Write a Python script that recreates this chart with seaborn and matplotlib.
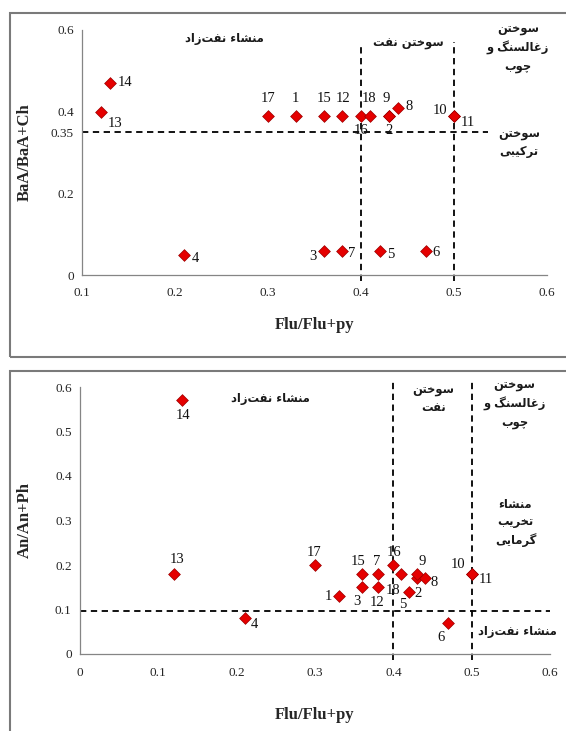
import matplotlib
matplotlib.use("Agg")
import matplotlib.pyplot as plt
import seaborn as sns
import pandas as pd
from matplotlib.patches import Rectangle

# ---------------- data ----------------
samples = [str(i) for i in range(1, 19)]

# top panel: Flu/Flu+py vs BaA/BaA+Ch
top_x = [0.33, 0.43, 0.36, 0.21, 0.42, 0.47, 0.38, 0.44, 0.43,
         0.50, 0.50, 0.38, 0.12, 0.13, 0.36, 0.40, 0.30, 0.41]
top_y = [0.39, 0.39, 0.06, 0.05, 0.06, 0.06, 0.06, 0.41, 0.39,
         0.39, 0.39, 0.39, 0.40, 0.47, 0.39, 0.39, 0.39, 0.39]

# bottom panel: Flu/Flu+py vs An/An+Ph
bot_x = [0.33, 0.43, 0.36, 0.21, 0.42, 0.47, 0.38, 0.44, 0.43,
         0.50, 0.50, 0.38, 0.12, 0.13, 0.36, 0.40, 0.30, 0.41]
bot_y = [0.13, 0.17, 0.15, 0.08, 0.14, 0.07, 0.18, 0.17, 0.18,
         0.18, 0.18, 0.15, 0.18, 0.57, 0.18, 0.20, 0.20, 0.18]

top_xticks = [0.1, 0.2, 0.3, 0.4, 0.5, 0.6]
top_yticks = [0, 0.2, 0.35, 0.4, 0.6]
top_ytick_labels = ["0", "0.2", "0.35", "0.4", "0.6"]
bot_xticks = [0, 0.1, 0.2, 0.3, 0.4, 0.5, 0.6]
bot_yticks = [0, 0.1, 0.2, 0.3, 0.4, 0.5, 0.6]

top_thresh_y = 0.35
bot_thresh_y = 0.096
thresh_x = [0.4, 0.5]

xlabel = "Flu/Flu+py"
top_ylabel = "BaA/BaA+Ch"
bot_ylabel = "An/An+Ph"

txt_petro = "منشاء نفت\u200cزاد"
txt_oil = "سوختن نفت"
txt_oil2 = "سوختن\nنفت"
txt_coal = "سوختن\nزغالسنگ و\nچوب"
txt_mix = "سوختن\nترکیبی"
txt_pyro = "منشاء\nتخریب\nگرمایی"

# ---------------- label offsets (pixels) ----------------
top_off = {
    "1": (0, 17, "center"), "2": (0, -15, "center"), "3": (-7, -6, "right"),
    "4": (7, -4, "left"), "5": (7, -4, "left"), "6": (6, -2, "left"),
    "7": (6, -3, "left"), "8": (7, 1, "left"), "9": (-3, 17, "center"),
    "10": (-7, 5, "right"), "11": (7, -7, "left"), "12": (1, 17, "center"),
    "13": (7, -12, "left"), "14": (8, 1, "left"), "15": (0, 17, "center"),
    "16": (0, -15, "center"), "17": (0, 17, "center"), "18": (-1, 17, "center"),
}
bot_off = {
    "1": (-6, 0, "right"), "2": (1, -15, "center"), "3": (-5, -14, "center"),
    "4": (6, -6, "left"), "5": (-6, -13, "center"), "6": (-7, -15, "center"),
    "7": (-1, 12, "center"), "8": (6, -4, "left"), "9": (5, 12, "center"),
    "10": (-6, 9, "right"), "11": (7, -6, "left"), "12": (-1, -15, "center"),
    "13": (3, 14, "center"), "14": (1, -15, "center"), "15": (-4, 12, "center"),
    "16": (1, 12, "center"), "17": (-1, 12, "center"), "18": (-8, -17, "center"),
}

# ---------------- simple Persian shaping ----------------
FORMS = {  # isolated, final, initial, medial
    'ا': ('\uFE8D', '\uFE8E', None, None),
    'ب': ('\uFE8F', '\uFE90', '\uFE91', '\uFE92'),
    'ت': ('\uFE95', '\uFE96', '\uFE97', '\uFE98'),
    'خ': ('\uFEA5', '\uFEA6', '\uFEA7', '\uFEA8'),
    'د': ('\uFEA9', '\uFEAA', None, None),
    'ر': ('\uFEAD', '\uFEAE', None, None),
    'ز': ('\uFEAF', '\uFEB0', None, None),
    'س': ('\uFEB1', '\uFEB2', '\uFEB3', '\uFEB4'),
    'ش': ('\uFEB5', '\uFEB6', '\uFEB7', '\uFEB8'),
    'غ': ('\uFECD', '\uFECE', '\uFECF', '\uFED0'),
    'ف': ('\uFED1', '\uFED2', '\uFED3', '\uFED4'),
    'ل': ('\uFEDD', '\uFEDE', '\uFEDF', '\uFEE0'),
    'م': ('\uFEE1', '\uFEE2', '\uFEE3', '\uFEE4'),
    'ن': ('\uFEE5', '\uFEE6', '\uFEE7', '\uFEE8'),
    'و': ('\uFEED', '\uFEEE', None, None),
    'ء': ('\uFE80', None, None, None),
    'گ': ('\uFB92', '\uFB93', '\uFB94', '\uFB95'),
    'چ': ('\uFB7A', '\uFB7B', '\uFB7C', '\uFB7D'),
    'ک': ('\uFB8E', '\uFB8F', '\uFB90', '\uFB91'),
    'ی': ('\uFBFC', '\uFBFD', '\uFBFE', '\uFBFF'),
}


def shape_line(s):
    out = []
    n = len(s)
    for i, c in enumerate(s):
        if c == '\u200c':
            continue
        if c not in FORMS:
            out.append(c)
            continue
        prev = s[i - 1] if i > 0 else None
        nxt = s[i + 1] if i < n - 1 else None
        jp = prev in FORMS and FORMS[prev][2] is not None and FORMS[c][1] is not None
        jn = FORMS[c][2] is not None and nxt in FORMS and FORMS[nxt][1] is not None
        iso, fin, ini, med = FORMS[c]
        if jp and jn:
            out.append(med)
        elif jp:
            out.append(fin)
        elif jn:
            out.append(ini)
        else:
            out.append(iso)
    return ''.join(reversed(out))


def fa(s):
    return '\n'.join(shape_line(l) for l in s.split('\n'))


# ---------------- style ----------------
sns.set_style("white")
plt.rcParams['font.family'] = ['Liberation Serif', 'DejaVu Serif']

RED = '#e50000'
EDGE = '#9a0000'
SPINE = '#858585'
fa_font = dict(family=['DejaVu Sans'], fontweight='bold', fontsize=8.3, color='#1a1a1a')

fig = plt.figure(figsize=(5.66, 7.31), dpi=100)

# panel frames
fig.add_artist(Rectangle((10 / 566, 1 - 357 / 731), 1.0, (357 - 13) / 731,
                         transform=fig.transFigure, fill=False,
                         edgecolor='#7a7a7a', lw=1.5))
fig.add_artist(Rectangle((10 / 566, -0.05), 1.0, 0.05 + (731 - 371) / 731,
                         transform=fig.transFigure, fill=False,
                         edgecolor='#7a7a7a', lw=1.5))

ax1 = fig.add_axes([82 / 566, 1 - 275 / 731, 465 / 566, 245 / 731])
ax2 = fig.add_axes([80 / 566, 1 - 654 / 731, 470 / 566, 267 / 731])

df_top = pd.DataFrame({'sample': samples, 'x': top_x, 'y': top_y})
df_bot = pd.DataFrame({'sample': samples, 'x': bot_x, 'y': bot_y})

dash = dict(color='black', lw=1.3, ls=(0, (3.5, 2.5)), clip_on=False, zorder=1)


def setup(ax, xt, yt, ytl, xlim, ylab, ylab_x):
    ax.set_xlim(*xlim)
    ax.set_ylim(0, 0.6)
    ax.set_xticks(xt)
    ax.set_xticklabels([("%g" % v) for v in xt])
    ax.set_yticks(yt)
    ax.set_yticklabels(ytl)
    for s in ['top', 'right']:
        ax.spines[s].set_visible(False)
    for s in ['left', 'bottom']:
        ax.spines[s].set_color(SPINE)
        ax.spines[s].set_linewidth(0.9)
    ax.tick_params(axis='x', direction='in', length=4, width=0.9, color=SPINE,
                   labelsize=9.5, pad=9)
    ax.tick_params(axis='y', direction='out', length=3, width=0.9, color=SPINE,
                   labelsize=9.5, pad=3)
    ax.set_xlabel(xlabel, fontsize=12, fontweight='bold')
    ax.set_ylabel(ylab, fontsize=12, fontweight='bold')
    ax.yaxis.set_label_coords(ylab_x, 0.5)
    ax.patch.set_alpha(0)


# ---- top panel ----
setup(ax1, top_xticks, top_yticks, top_ytick_labels, (0.1, 0.6), top_ylabel, -0.105)
ax1.plot([0.1, 0.537], [top_thresh_y, top_thresh_y], **dash)
ax1.plot([thresh_x[0], thresh_x[0]], [-0.014, 0.566], **dash)
ax1.plot([thresh_x[1], thresh_x[1]], [-0.014, 0.57], **dash)
sns.scatterplot(data=df_top, x='x', y='y', marker='D', s=36, color=RED,
                edgecolor=EDGE, linewidth=0.5, ax=ax1, zorder=3, clip_on=False)
ax1.set_xlabel(xlabel, fontsize=12, fontweight='bold')
ax1.set_ylabel(top_ylabel, fontsize=12, fontweight='bold')
ax1.xaxis.set_label_coords(0.5, -0.17)
for s, x, y in zip(samples, top_x, top_y):
    dx, dy, ha = top_off[s]
    ax1.annotate(s, (x, y), xytext=(dx * 0.72, dy * 0.72), textcoords='offset points',
                 ha=ha, va='center', fontsize=10.5, color='#111111')

ax1.text(0.253, 0.578, fa(txt_petro), ha='center', va='center', **fa_font)
ax1.text(0.451, 0.566, fa(txt_oil), ha='center', va='center', **fa_font)
ax1.text(0.569, 0.556, fa(txt_coal), ha='center', va='center', linespacing=1.45,
         clip_on=False, **fa_font)
ax1.text(0.57, 0.323, fa(txt_mix), ha='center', va='center', linespacing=1.45,
         clip_on=False, **fa_font)

# ---- bottom panel ----
setup(ax2, bot_xticks, bot_yticks, [("%g" % v) for v in bot_yticks], (0, 0.6),
      bot_ylabel, -0.10)
ax2.plot([0, 0.6], [bot_thresh_y, bot_thresh_y], **dash)
ax2.plot([thresh_x[0], thresh_x[0]], [-0.013, 0.613], **dash)
ax2.plot([thresh_x[1], thresh_x[1]], [-0.013, 0.613], **dash)
sns.scatterplot(data=df_bot, x='x', y='y', marker='D', s=36, color=RED,
                edgecolor=EDGE, linewidth=0.5, ax=ax2, zorder=3, clip_on=False)
ax2.set_xlabel(xlabel, fontsize=12, fontweight='bold')
ax2.set_ylabel(bot_ylabel, fontsize=12, fontweight='bold')
ax2.xaxis.set_label_coords(0.5, -0.2)
for s, x, y in zip(samples, bot_x, bot_y):
    dx, dy, ha = bot_off[s]
    ax2.annotate(s, (x, y), xytext=(dx * 0.72, dy * 0.72), textcoords='offset points',
                 ha=ha, va='center', fontsize=10.5, color='#111111')

ax2.text(0.2425, 0.574, fa(txt_petro), ha='center', va='center', **fa_font)
ax2.text(0.4515, 0.573, fa(txt_oil2), ha='center', va='center', linespacing=1.35,
         **fa_font)
ax2.text(0.555, 0.561, fa(txt_coal), ha='center', va='center', linespacing=1.45,
         clip_on=False, **fa_font)
ax2.text(0.556, 0.296, fa(txt_pyro), ha='center', va='center', linespacing=1.45,
         clip_on=False, **fa_font)
ax2.text(0.558, 0.05, fa(txt_petro), ha='center', va='center', clip_on=False,
         **fa_font)

fig.savefig("out.png", dpi=100)
